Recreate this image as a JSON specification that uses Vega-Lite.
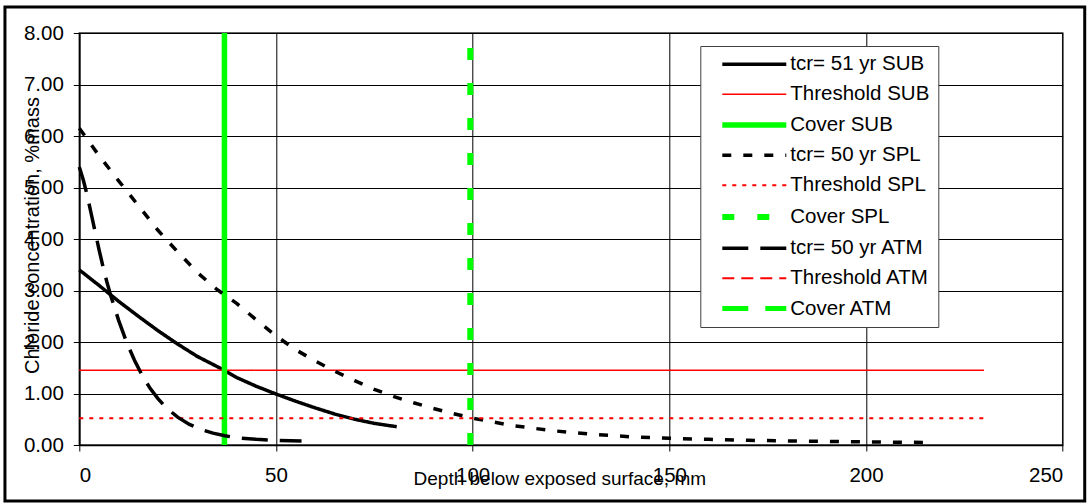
{
  "$schema": "https://vega.github.io/schema/vega-lite/v6.json",
  "width": 983.4,
  "height": 412,
  "autosize": {"type": "none"},
  "padding": {"left": 79.3, "top": 33, "right": 25.3, "bottom": 58},
  "background": "white",
  "config": {
    "view": {"stroke": "#303030", "strokeWidth": 1.5},
    "font": "Liberation Sans",
    "axis": {
      "labelFont": "Liberation Sans", "titleFont": "Liberation Sans",
      "labelFontSize": 20.5, "titleFontSize": 20,
      "labelColor": "black", "titleColor": "black", "titleFontWeight": "normal",
      "domainColor": "black", "tickColor": "black", "gridColor": "black",
      "gridOpacity": 1, "gridWidth": 1, "tickSize": 6, "domainWidth": 1.5
    }
  },
  "data": {"values": [
    {"s": "tcr= 51 yr SUB", "x": 0, "y": 3.40},
    {"s": "tcr= 51 yr SUB", "x": 5, "y": 3.10},
    {"s": "tcr= 51 yr SUB", "x": 10, "y": 2.79},
    {"s": "tcr= 51 yr SUB", "x": 15, "y": 2.50},
    {"s": "tcr= 51 yr SUB", "x": 20, "y": 2.22},
    {"s": "tcr= 51 yr SUB", "x": 25, "y": 1.96},
    {"s": "tcr= 51 yr SUB", "x": 30, "y": 1.72},
    {"s": "tcr= 51 yr SUB", "x": 36.9, "y": 1.45},
    {"s": "tcr= 51 yr SUB", "x": 40, "y": 1.31},
    {"s": "tcr= 51 yr SUB", "x": 45, "y": 1.14},
    {"s": "tcr= 51 yr SUB", "x": 50, "y": 0.99},
    {"s": "tcr= 51 yr SUB", "x": 55, "y": 0.85},
    {"s": "tcr= 51 yr SUB", "x": 60, "y": 0.72},
    {"s": "tcr= 51 yr SUB", "x": 65, "y": 0.60},
    {"s": "tcr= 51 yr SUB", "x": 70, "y": 0.50},
    {"s": "tcr= 51 yr SUB", "x": 75, "y": 0.42},
    {"s": "tcr= 51 yr SUB", "x": 80.7, "y": 0.355},
    {"s": "Threshold SUB", "x": 0, "y": 1.45},
    {"s": "Threshold SUB", "x": 230, "y": 1.45},
    {"s": "Cover SUB", "x": 36.9, "y": 0},
    {"s": "Cover SUB", "x": 36.9, "y": 8},
    {"s": "tcr= 50 yr SPL", "x": 0, "y": 6.15},
    {"s": "tcr= 50 yr SPL", "x": 5, "y": 5.62},
    {"s": "tcr= 50 yr SPL", "x": 10, "y": 5.13},
    {"s": "tcr= 50 yr SPL", "x": 15, "y": 4.65},
    {"s": "tcr= 50 yr SPL", "x": 20, "y": 4.17},
    {"s": "tcr= 50 yr SPL", "x": 25, "y": 3.75},
    {"s": "tcr= 50 yr SPL", "x": 30, "y": 3.35},
    {"s": "tcr= 50 yr SPL", "x": 35, "y": 3.02},
    {"s": "tcr= 50 yr SPL", "x": 40, "y": 2.75},
    {"s": "tcr= 50 yr SPL", "x": 45, "y": 2.43},
    {"s": "tcr= 50 yr SPL", "x": 50, "y": 2.12},
    {"s": "tcr= 50 yr SPL", "x": 55, "y": 1.85},
    {"s": "tcr= 50 yr SPL", "x": 60, "y": 1.63},
    {"s": "tcr= 50 yr SPL", "x": 65, "y": 1.43},
    {"s": "tcr= 50 yr SPL", "x": 70, "y": 1.25},
    {"s": "tcr= 50 yr SPL", "x": 75, "y": 1.08},
    {"s": "tcr= 50 yr SPL", "x": 80, "y": 0.94},
    {"s": "tcr= 50 yr SPL", "x": 85, "y": 0.82},
    {"s": "tcr= 50 yr SPL", "x": 90, "y": 0.71},
    {"s": "tcr= 50 yr SPL", "x": 95, "y": 0.61},
    {"s": "tcr= 50 yr SPL", "x": 100, "y": 0.52},
    {"s": "tcr= 50 yr SPL", "x": 110, "y": 0.38},
    {"s": "tcr= 50 yr SPL", "x": 120, "y": 0.28},
    {"s": "tcr= 50 yr SPL", "x": 130, "y": 0.21},
    {"s": "tcr= 50 yr SPL", "x": 140, "y": 0.16},
    {"s": "tcr= 50 yr SPL", "x": 150, "y": 0.13},
    {"s": "tcr= 50 yr SPL", "x": 160, "y": 0.11},
    {"s": "tcr= 50 yr SPL", "x": 170, "y": 0.09},
    {"s": "tcr= 50 yr SPL", "x": 180, "y": 0.08},
    {"s": "tcr= 50 yr SPL", "x": 190, "y": 0.07},
    {"s": "tcr= 50 yr SPL", "x": 200, "y": 0.06},
    {"s": "tcr= 50 yr SPL", "x": 216, "y": 0.05},
    {"s": "Threshold SPL", "x": 0, "y": 0.52},
    {"s": "Threshold SPL", "x": 230, "y": 0.52},
    {"s": "Cover SPL", "x": 99.4, "y": 0},
    {"s": "Cover SPL", "x": 99.4, "y": 8},
    {"s": "tcr= 50 yr ATM", "x": 0, "y": 5.40},
    {"s": "tcr= 50 yr ATM", "x": 1, "y": 5.15},
    {"s": "tcr= 50 yr ATM", "x": 2, "y": 4.85},
    {"s": "tcr= 50 yr ATM", "x": 3, "y": 4.50},
    {"s": "tcr= 50 yr ATM", "x": 4, "y": 4.15},
    {"s": "tcr= 50 yr ATM", "x": 5, "y": 3.80},
    {"s": "tcr= 50 yr ATM", "x": 6, "y": 3.47},
    {"s": "tcr= 50 yr ATM", "x": 7, "y": 3.17},
    {"s": "tcr= 50 yr ATM", "x": 8, "y": 2.90},
    {"s": "tcr= 50 yr ATM", "x": 10, "y": 2.42},
    {"s": "tcr= 50 yr ATM", "x": 12, "y": 2.00},
    {"s": "tcr= 50 yr ATM", "x": 14, "y": 1.65},
    {"s": "tcr= 50 yr ATM", "x": 16, "y": 1.35},
    {"s": "tcr= 50 yr ATM", "x": 18, "y": 1.10},
    {"s": "tcr= 50 yr ATM", "x": 20, "y": 0.90},
    {"s": "tcr= 50 yr ATM", "x": 22, "y": 0.73},
    {"s": "tcr= 50 yr ATM", "x": 25, "y": 0.54},
    {"s": "tcr= 50 yr ATM", "x": 28, "y": 0.40},
    {"s": "tcr= 50 yr ATM", "x": 31, "y": 0.30},
    {"s": "tcr= 50 yr ATM", "x": 34, "y": 0.23},
    {"s": "tcr= 50 yr ATM", "x": 37, "y": 0.18},
    {"s": "tcr= 50 yr ATM", "x": 40, "y": 0.14},
    {"s": "tcr= 50 yr ATM", "x": 45, "y": 0.11},
    {"s": "tcr= 50 yr ATM", "x": 50, "y": 0.09},
    {"s": "tcr= 50 yr ATM", "x": 56.5, "y": 0.08}
  ]},
  "layer": [
    {
      "data": {"values": [{"frame": 1}]},
      "mark": {"type": "rect", "filled": false, "stroke": "black", "strokeWidth": 3, "clip": false},
      "encoding": {
        "x": {"datum": -18.9, "type": "quantitative", "scale": {"domain": [0, 250], "nice": false}},
        "x2": {"datum": 255.6},
        "y": {"datum": 8.505, "type": "quantitative", "scale": {"domain": [0, 8], "nice": false}},
        "y2": {"datum": -1.087}
      }
    },
    {
      "encoding": {
        "x": {"field": "x", "type": "quantitative",
          "scale": {"domain": [0, 250], "nice": false, "zero": false},
          "axis": {"values": [0, 50, 100, 150, 200, 250], "grid": true, "labelPadding": 14,
            "title": "Depth below exposed surface, mm", "titleFontSize": 19, "titleX": 480, "titleY": 39,
            "titleBaseline": "alphabetic", "titleAlign": "center", "titleAnchor": null}},
        "y": {"field": "y", "type": "quantitative",
          "scale": {"domain": [0, 8], "nice": false},
          "axis": {"values": [0, 1, 2, 3, 4, 5, 6, 7, 8], "format": ".2f", "grid": true, "labelPadding": 10,
            "title": "Chloride concentration, %mass", "titleX": -41, "titleY": 202,
            "titleBaseline": "alphabetic", "titleAlign": "center", "titleAngle": -90, "titleAnchor": null}},
        "color": {"field": "s", "type": "nominal",
          "scale": {
            "domain": ["tcr= 51 yr SUB", "Threshold SUB", "Cover SUB", "tcr= 50 yr SPL", "Threshold SPL", "Cover SPL", "tcr= 50 yr ATM", "Threshold ATM", "Cover ATM"],
            "range": ["#000000", "#FF0000", "#00FF00", "#000000", "#FF0000", "#00FF00", "#000000", "#FF0000", "#00FF00"]},
          "legend": {"title": null, "orient": "none", "legendX": 621, "legendY": 13,
            "fillColor": "white", "strokeColor": "#404040", "padding": 8,
            "symbolType": "M-1,0H7", "symbolSize": 256, "symbolOffset": 11, "labelOffset": 49, "rowPadding": 9,
            "labelFont": "Liberation Sans", "labelFontSize": 20.5, "labelColor": "black", "labelLimit": 400}},
        "strokeDash": {"field": "s", "type": "nominal",
          "scale": {
            "domain": ["tcr= 51 yr SUB", "Threshold SUB", "Cover SUB", "tcr= 50 yr SPL", "Threshold SPL", "Cover SPL", "tcr= 50 yr ATM", "Threshold ATM", "Cover ATM"],
            "range": [[1, 0], [1, 0], [1, 0], [9, 12], [4, 6], [12, 23], [26, 12], [12, 7], [26, 17]]},
          "legend": {"title": null}},
        "strokeWidth": {"field": "s", "type": "nominal",
          "scale": {"type": "ordinal",
            "domain": ["tcr= 51 yr SUB", "Threshold SUB", "Cover SUB", "tcr= 50 yr SPL", "Threshold SPL", "Cover SPL", "tcr= 50 yr ATM", "Threshold ATM", "Cover ATM"],
            "range": [3.5, 1.5, 5.5, 3.5, 2, 6, 3.5, 2, 5]},
          "legend": {"title": null}}
      },
      "layer": [
        {"transform": [{"filter": "datum.s == 'tcr= 51 yr SUB'"}], "mark": {"type": "line", "strokeCap": "butt"}},
        {"transform": [{"filter": "datum.s == 'Threshold SUB'"}], "mark": {"type": "line", "strokeCap": "butt"}},
        {"transform": [{"filter": "datum.s == 'Cover SUB'"}], "mark": {"type": "line", "strokeCap": "butt"}},
        {"transform": [{"filter": "datum.s == 'tcr= 50 yr SPL'"}], "mark": {"type": "line", "strokeCap": "butt"}},
        {"transform": [{"filter": "datum.s == 'Threshold SPL'"}], "mark": {"type": "line", "strokeCap": "butt"}},
        {"transform": [{"filter": "datum.s == 'Cover SPL'"}], "mark": {"type": "line", "strokeCap": "butt"}},
        {"transform": [{"filter": "datum.s == 'tcr= 50 yr ATM'"}], "mark": {"type": "line", "strokeCap": "butt"}}
      ]
    }
  ]
}
